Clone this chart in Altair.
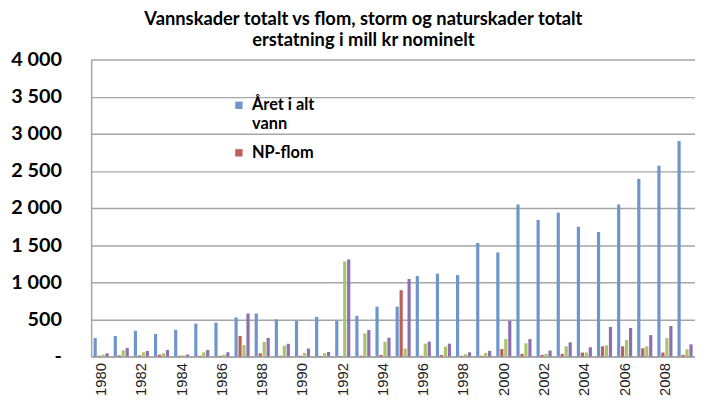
import altair as alt
import pandas as pd

years = list(range(1980, 2010))
series = ["Året i alt vann", "NP-flom", "NP-storm", "NP totalt"]
colors = ["#6E96CD", "#BE5F5A", "#A9C46A", "#8C6FB0"]

aaret_vann = [250, 276, 346, 303, 359, 443, 456, 526, 579, 500,
              480, 533, 480, 547, 671, 671, 1084, 1115, 1097, 1529,
              1402, 2047, 1840, 1937, 1747, 1676, 2047, 2392, 2570, 2901]
np_flom = [10, 15, 15, 25, 10, 10, 10, 276, 43, 10,
           10, 8, 8, 10, 20, 893, 10, 20, 10, 10,
           100, 36, 22, 36, 53, 137, 137, 111, 53, 22]
np_storm = [26, 83, 57, 43, 15, 57, 26, 153, 197, 145,
            48, 44, 1280, 311, 200, 107, 173, 133, 31, 48,
            235, 177, 36, 137, 53, 150, 221, 137, 248, 97]
np_totalt = [43, 114, 75, 88, 26, 88, 57, 579, 250, 171,
             107, 61, 1307, 356, 253, 1044, 200, 173, 57, 75,
             480, 235, 80, 190, 124, 398, 385, 288, 411, 164]

y_ticks = [0, 500, 1000, 1500, 2000, 2500, 3000, 3500, 4000]
x_label_years = list(range(1980, 2010, 2))

rows = []
for name, vals in zip(series, [aaret_vann, np_flom, np_storm, np_totalt]):
    for yr, v in zip(years, vals):
        rows.append({"year": yr, "serie": name, "value": v})
df = pd.DataFrame(rows)

chart = alt.Chart(df).mark_bar().encode(
    x=alt.X("year:O",
            scale=alt.Scale(paddingInner=0.25, paddingOuter=0.12),
            axis=alt.Axis(values=x_label_years, labelAngle=270, title=None,
                          labelFont="Liberation Sans", labelFontSize=15,
                          labelColor="#222222", ticks=False, labelPadding=6,
                          domainColor="#A6A6A6", domainWidth=1.5)),
    xOffset=alt.XOffset("serie:N", sort=series, scale=alt.Scale(paddingInner=0.2)),
    y=alt.Y("value:Q",
            scale=alt.Scale(domain=[0, 4000]),
            axis=alt.Axis(values=y_ticks, title=None, ticks=False,
                          labelExpr="datum.value == 0 ? '-\u00a0\u00a0\u00a0' : replace(format(datum.value, ','), ',', ' ')",
                          labelFont="Lato", labelFontSize=20, labelFontWeight="bold",
                          labelColor="black", labelPadding=30,
                          gridColor="#A6A6A6", gridWidth=1.5,
                          domainColor="#A6A6A6", domainWidth=1.5)),
    color=alt.Color("serie:N", sort=series,
                    scale=alt.Scale(domain=series, range=colors),
                    legend=alt.Legend(values=series[:2], title=None, orient="none",
                                      legendX=141, legendY=38,
                                      symbolType="square", symbolSize=55,
                                      symbolStrokeWidth=0, symbolOpacity=1,
                                      labelFont="Lato", labelFontSize=16.5,
                                      labelFontWeight="bold", labelColor="black",
                                      rowPadding=12, labelOffset=5,
                                      labelExpr="datum.label == 'Året i alt vann' ? ['Året i alt', 'vann'] : datum.label")),
).properties(
    width=610, height=300,
    autosize="none",
    padding={"left": 84, "top": 50, "right": 0, "bottom": 50},
    title=alt.Title(["Vannskader totalt vs flom, storm og naturskader totalt",
                     "erstatning i mill kr nominelt"],
                    font="Lato", fontSize=18.5, fontWeight="bold", color="black",
                    anchor="middle", dx=-30, offset=0, lineHeight=21),
).configure_view(strokeWidth=0)

chart.save("out.html", embed_options={"renderer": "svg", "actions": False})
